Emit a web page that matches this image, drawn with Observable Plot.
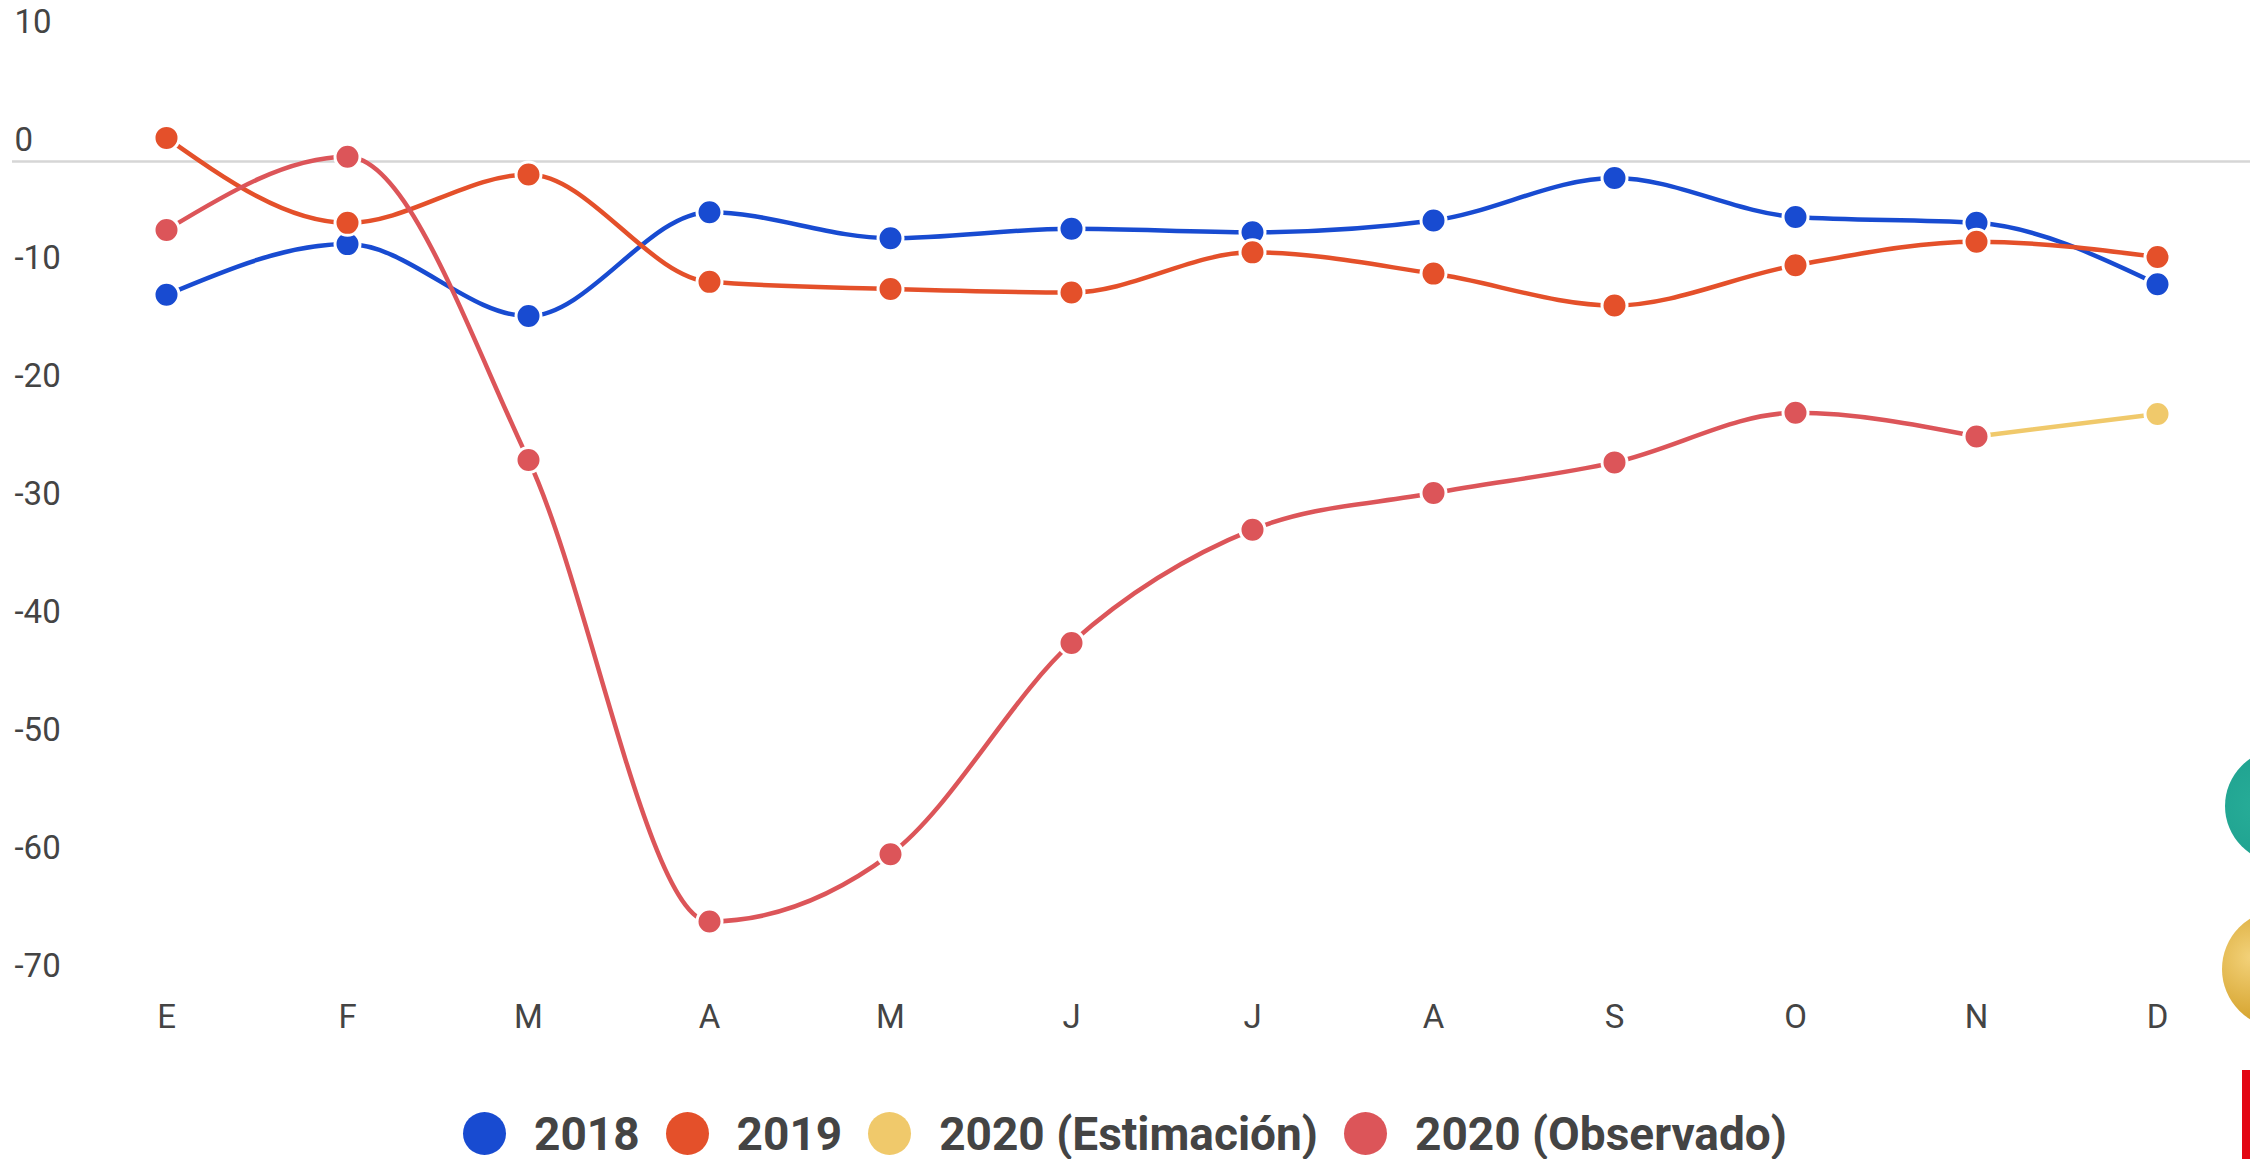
<!DOCTYPE html>
<html>
<head>
<meta charset="utf-8">
<script src="https://cdn.jsdelivr.net/npm/d3@7"></script>
<script src="https://cdn.jsdelivr.net/npm/@observablehq/plot@0.6"></script>
<style>
  html, body { margin: 0; padding: 0; background: #fff; overflow: hidden; }
  body { width: 2250px; height: 1159px; position: relative; font-family: Roboto, "Noto Sans", sans-serif; }
  #legend { display: flex; justify-content: center; align-items: center; height: 89px; box-sizing: border-box; padding-top: 38px; }
  #legend .item { display: flex; align-items: center; margin: 0 13px; }
  #legend .sw { width: 43px; height: 43px; border-radius: 50%; margin-right: 28px; }
  #legend .lab { font-weight: 700; font-size: 46px; color: #444; line-height: 44px; }
  .badge { position: absolute; border-radius: 50%; }
</style>
</head>
<body>
<div id="chart"></div>
<div id="legend"></div>
<div class="badge" style="left:2225px;top:749px;width:114px;height:114px;background:radial-gradient(circle at 30% 50%, #27ad98, #1a9a8a);"></div>
<div class="badge" style="left:2222px;top:910px;width:118px;height:118px;background:radial-gradient(circle at 25% 40%, #f3d27a, #d4a12a 60%, #b8861c);"></div>
<div style="position:absolute;left:2242px;top:1070px;width:8px;height:89px;background:#e30613;"></div>
<script>
// ---- data ----
const monthKeys = ["Ene","Feb","Mar","Abr","May","Jun","Jul","Ago","Sep","Oct","Nov","Dic"];
const monthLabels = ["E","F","M","A","M","J","J","A","S","O","N","D"];
const yTicks = [10, 0, -10, -20, -30, -40, -50, -60, -70];
const yTickLabels = ["10", "0", "-10", "-20", "-30", "-40", "-50", "-60", "-70"];

const seriesNames = ["2018", "2019", "2020 (Estimación)", "2020 (Observado)"];
const seriesColors = ["#184bd1", "#e4502a", "#f0c96b", "#dc5559"];

const v2018 = [-11.3, -7.0, -13.1, -4.3, -6.5, -5.7, -6.0, -5.0, -1.4, -4.7, -5.2, -10.4];
const v2019 = [2.0, -5.2, -1.1, -10.2, -10.8, -11.1, -7.7, -9.5, -12.2, -8.8, -6.8, -8.1];
const v2020est = [null, null, null, null, null, null, null, null, null, null, -23.3, -21.4];
const v2020obs = [-5.8, 0.4, -25.3, -64.4, -58.7, -40.8, -31.2, -28.1, -25.5, -21.3, -23.3, null];

// ---- build table ----
const seriesValues = [v2018, v2019, v2020est, v2020obs];
const rows = [];
seriesValues.forEach((vals, si) => {
  vals.forEach((v, mi) => {
    if (v !== null) rows.push({ month: monthKeys[mi], value: v, series: seriesNames[si] });
  });
});

const fontStyle = { fontFamily: "Roboto, 'Noto Sans', sans-serif", fontSize: "33px", color: "#444", background: "#fff", overflow: "visible" };

const chart = Plot.plot({
  width: 2250,
  height: 1070,
  marginLeft: 12,
  marginRight: 0,
  marginTop: 43,
  marginBottom: 83,
  style: fontStyle,
  x: { type: "point", domain: monthKeys, range: [165, 2157], padding: 0, axis: null },
  y: { domain: [-70, 10], axis: null },
  color: { domain: seriesNames, range: seriesColors },
  marks: [
    Plot.ruleY([0], { stroke: "#d6d6d6", strokeWidth: 2.5 }),
    Plot.text(yTicks, {
      y: d => d,
      text: (d, i) => yTickLabels[i],
      frameAnchor: "left",
      textAnchor: "start",
      dx: 2,
      dy: -21,
      fill: "#444",
      fontSize: 33
    }),
    Plot.text(monthKeys, {
      x: d => d,
      text: (d, i) => monthLabels[i],
      frameAnchor: "bottom",
      dy: 40,
      fill: "#444",
      fontSize: 33
    }),
    Plot.line(rows, {
      x: "month",
      y: "value",
      z: "series",
      stroke: "series",
      strokeWidth: 4.5,
      curve: "monotone-x"
    }),
    Plot.dot(rows, {
      x: "month",
      y: "value",
      fill: "series",
      stroke: "white",
      strokeWidth: 3,
      r: 12.5
    })
  ]
});
document.getElementById("chart").appendChild(chart);

// ---- legend ----
const legend = document.getElementById("legend");
seriesNames.forEach((name, i) => {
  const item = document.createElement("div");
  item.className = "item";
  const sw = document.createElement("div");
  sw.className = "sw";
  sw.style.background = seriesColors[i];
  const lab = document.createElement("span");
  lab.className = "lab";
  lab.textContent = name;
  item.appendChild(sw);
  item.appendChild(lab);
  legend.appendChild(item);
});
</script>
</body>
</html>
